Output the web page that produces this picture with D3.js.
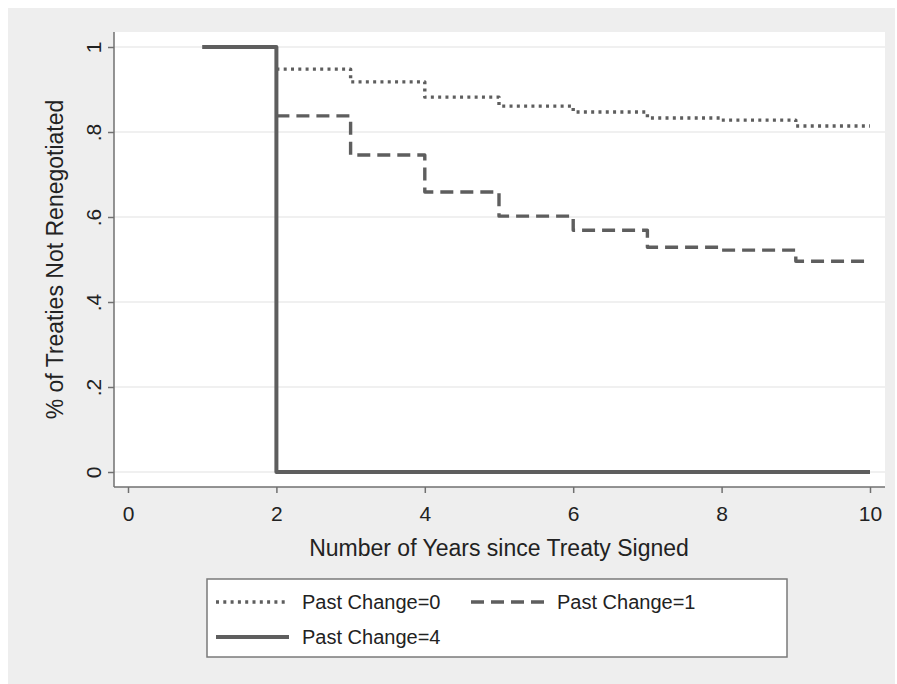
<!doctype html>
<html>
<head>
  <meta charset="utf-8" />
  <script src="https://cdn.jsdelivr.net/npm/d3@7"></script>
  <style>
  body{
    margin: 0;
    background: #ffffff;
    font-family: "Liberation Sans", Arial, sans-serif;
  }
  .grid line{
    stroke: #ebebeb;
    stroke-width: 1.5;
  }
  .axis path, .axis line{
    stroke: #707070;
    stroke-width: 1.5;
  }
  .axis text{
    fill: #222;
    font-size: 21px;
    font-family: "Liberation Sans", Arial, sans-serif;
  }
  .title{
    fill: #222;
    font-size: 23px;
  }
  .km{
    fill: none;
    stroke: #5e5e5e;
  }
  </style>
</head>
<body>
  <div id="chart"></div>
  <script>
  // survival estimates, one value per year interval starting at startYear
  var seriesNames = ["Past Change=0", "Past Change=1", "Past Change=4"];
  var startYears = [2, 2, 1];
  var pastChange0 = [0.948, 0.918, 0.882, 0.861, 0.847, 0.833, 0.828, 0.814];
  var pastChange1 = [0.838, 0.746, 0.659, 0.602, 0.569, 0.529, 0.522, 0.496];
  var pastChange4 = [1, 0, 0, 0, 0, 0, 0, 0, 0];
  var xTicks = [0, 2, 4, 6, 8, 10];
  var yTicks = [0, 0.2, 0.4, 0.6, 0.8, 1];
  var yTickLabels = ["0", ".2", ".4", ".6", ".8", "1"];
  var lastYear = 10;

  var width = 897, height = 684;

  var svg = d3.select("#chart").append("svg")
    .attr("width", width)
    .attr("height", height);

  // outer grey frame
  svg.append("rect")
    .attr("x", 8).attr("y", 8)
    .attr("width", 887).attr("height", 676)
    .attr("fill", "#eeeeee");

  // plot region
  var plot = {left: 114, right: 885, top: 32, bottom: 487};
  svg.append("rect")
    .attr("x", plot.left).attr("y", plot.top)
    .attr("width", plot.right - plot.left).attr("height", plot.bottom - plot.top)
    .attr("fill", "#ffffff");

  var x = d3.scaleLinear().domain([0, 10]).range([128, 870]);
  var y = d3.scaleLinear().domain([0, 1]).range([472, 47]);

  // gridlines
  svg.append("g")
    .attr("class", "grid")
    .selectAll("line")
    .data(yTicks)
    .enter().append("line")
    .attr("x1", plot.left).attr("x2", plot.right)
    .attr("y1", function(d){ return y(d); })
    .attr("y2", function(d){ return y(d); });

  // axes
  var xAxis = d3.axisBottom(x).tickValues(xTicks).tickSize(6).tickSizeOuter(0).tickPadding(13);
  var gx = svg.append("g")
    .attr("class", "axis")
    .attr("transform", "translate(0," + plot.bottom + ")")
    .call(xAxis);
  gx.select(".domain").attr("d", "M" + plot.left + ",0H" + plot.right);

  var yAxis = d3.axisLeft(y).tickValues(yTicks).tickSize(6).tickSizeOuter(0)
    .tickFormat(function(d, i){ return yTickLabels[i]; });
  var gy = svg.append("g")
    .attr("class", "axis")
    .attr("transform", "translate(" + plot.left + ",0)")
    .call(yAxis);
  gy.select(".domain").attr("d", "M0," + plot.top + "V" + plot.bottom);
  gy.selectAll(".tick text")
    .attr("x", 0).attr("dy", 0)
    .attr("text-anchor", "middle")
    .attr("transform", "translate(-13,0) rotate(-90)");

  // axis titles
  svg.append("text")
    .attr("class", "title")
    .attr("x", 499)
    .attr("y", 556)
    .attr("text-anchor", "middle")
    .text("Number of Years since Treaty Signed");

  svg.append("text")
    .attr("class", "title")
    .attr("transform", "translate(63," + ((plot.top + plot.bottom) / 2) + ") rotate(-90)")
    .attr("text-anchor", "middle")
    .text("% of Treaties Not Renegotiated");

  // step curves
  var styles = [
    {dash: "3,4.3", width: 3.4},
    {dash: "13,7", width: 3.4},
    {dash: null, width: 4}
  ];
  var allValues = [pastChange0, pastChange1, pastChange4];

  var line = d3.line()
    .x(function(d){ return x(d[0]); })
    .y(function(d){ return y(d[1]); })
    .curve(d3.curveStepAfter);

  allValues.forEach(function(vals, i){
    var pts = vals.map(function(v, j){ return [startYears[i] + j, v]; });
    pts.push([lastYear, vals[vals.length - 1]]);
    svg.append("path")
      .datum(pts)
      .attr("class", "km")
      .attr("d", line)
      .attr("stroke-width", styles[i].width)
      .attr("stroke-dasharray", styles[i].dash)
      .attr("stroke-linejoin", "round");
  });

  // legend
  var legend = svg.append("g");
  legend.append("rect")
    .attr("x", 207).attr("y", 579)
    .attr("width", 580).attr("height", 78)
    .attr("fill", "#ffffff")
    .attr("stroke", "#7a7a7a")
    .attr("stroke-width", 1.5);

  var legendPos = [[216, 602], [471, 602], [216, 637]];
  seriesNames.forEach(function(name, i){
    var p = legendPos[i];
    legend.append("line")
      .attr("class", "km")
      .attr("x1", p[0]).attr("x2", p[0] + 73)
      .attr("y1", p[1]).attr("y2", p[1])
      .attr("stroke-width", styles[i].width)
      .attr("stroke-dasharray", styles[i].dash);
    legend.append("text")
      .attr("x", p[0] + 86)
      .attr("y", p[1] + 7)
      .attr("fill", "#222")
      .attr("font-size", "20px")
      .text(name);
  });
  </script>
</body>
</html>
